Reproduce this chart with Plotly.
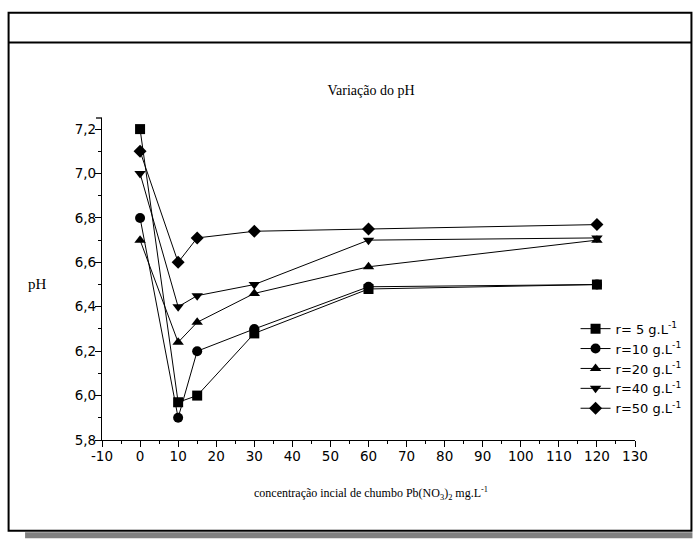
import plotly.graph_objects as go

# ---- data ----
conc = [0, 10, 15, 30, 60, 120]
ph_r5 = [7.20, 5.97, 6.00, 6.28, 6.48, 6.50]
ph_r10 = [6.80, 5.90, 6.20, 6.30, 6.49, 6.50]
ph_r20 = [6.70, 6.24, 6.33, 6.46, 6.58, 6.70]
ph_r40 = [7.00, 6.40, 6.45, 6.50, 6.70, 6.71]
ph_r50 = [7.10, 6.60, 6.71, 6.74, 6.75, 6.77]
series_names = ["r= 5 g.L<sup>-1</sup>", "r=10 g.L<sup>-1</sup>", "r=20 g.L<sup>-1</sup>",
                "r=40 g.L<sup>-1</sup>", "r=50 g.L<sup>-1</sup>"]
series_values = [ph_r5, ph_r10, ph_r20, ph_r40, ph_r50]
series_symbols = ["square", "circle", "triangle-up", "triangle-down", "diamond"]
x_ticks = list(range(-10, 131, 10))
x_tick_labels = [str(v) for v in x_ticks]
y_ticks = [5.8, 6.0, 6.2, 6.4, 6.6, 6.8, 7.0, 7.2]

W, H = 693, 539
L, R, T, B = 102, 635.5, 118, 440.5
PW, PH = R - L, B - T


def px(x):
    return (x - L) / PW


def py(y):
    return (B - y) / PH


fig = go.Figure()
# draw in reverse so r=5 squares sit on top
for i in reversed(range(5)):
    fig.add_trace(go.Scatter(
        x=conc, y=series_values[i], name=series_names[i], mode="lines+markers",
        line=dict(color="black", width=1),
        marker=dict(symbol=series_symbols[i], size=10, color="black"),
        legendrank=i + 1,
    ))

shapes = [
    # shadow
    dict(type="rect", xref="paper", yref="paper", x0=px(25), x1=px(693), y0=py(533), y1=py(539),
         fillcolor="#808080", line=dict(width=0), layer="below"),
    # outer frame
    dict(type="rect", xref="paper", yref="paper", x0=px(8.5), x1=px(692), y0=py(12.5), y1=py(531.5),
         line=dict(color="black", width=2), layer="below"),
    # header separator
    dict(type="line", xref="paper", yref="paper", x0=px(8.5), x1=px(692), y0=py(42.5), y1=py(42.5),
         line=dict(color="black", width=2)),
    # y-axis end tick
    dict(type="line", xref="paper", yref="paper", x0=px(96), x1=px(102), y0=py(118), y1=py(118),
         line=dict(color="black", width=1.3)),
]

annotations = [
    dict(text="pH", xref="paper", yref="paper", x=px(37), y=py(284), showarrow=False,
         font=dict(family="Liberation Serif", size=15, color="black"), xanchor="center", yanchor="middle"),
    dict(text="concentração incial de chumbo Pb(NO<sub>3</sub>)<sub>2</sub> mg.L<sup>-1</sup>",
         xref="paper", yref="paper", x=px(371), y=py(494), showarrow=False,
         font=dict(family="Liberation Serif", size=12, color="black"), xanchor="center", yanchor="middle"),
]

axis_common = dict(showgrid=False, zeroline=False, showline=True, linecolor="black", linewidth=1.3,
                   ticks="outside", tickcolor="black", tickwidth=1.3, mirror=False,
                   tickfont=dict(family="DejaVu Sans", size=13.5, color="black"))

fig.update_layout(
    width=W, height=H,
    margin=dict(l=L, r=W - R, t=T, b=H - B, pad=0, autoexpand=False),
    paper_bgcolor="white", plot_bgcolor="white",
    separators=",.",
    title=dict(text="Variação do pH", x=371 / W, xanchor="center",
               y=1 - 90 / H, yanchor="middle",
               font=dict(family="Liberation Serif", size=14, color="black")),
    xaxis=dict(range=[-10, 130], tickvals=x_ticks, ticktext=x_tick_labels, ticklen=6,
               ticklabelstandoff=-2,
               minor=dict(ticks="outside", dtick=5, ticklen=3, tickcolor="black", tickwidth=1.3),
               **axis_common),
    yaxis=dict(range=[5.8, 7.25], tickvals=y_ticks, tickformat=".1f", ticklen=6,
               ticklabelstandoff=-4,
               minor=dict(ticks="outside", dtick=0.1, tick0=5.8, ticklen=3, tickcolor="black", tickwidth=1.3),
               **axis_common),
    legend=dict(x=px(576), y=py(314), xanchor="left", yanchor="top", bgcolor="rgba(0,0,0,0)",
                font=dict(family="DejaVu Sans", size=13, color="black"), itemwidth=30,
                tracegroupgap=0),
    shapes=shapes,
    annotations=annotations,
    showlegend=True,
)

fig.write_html("out.html", config={"displayModeBar": False},
               post_script="document.body.style.margin='0px';")
